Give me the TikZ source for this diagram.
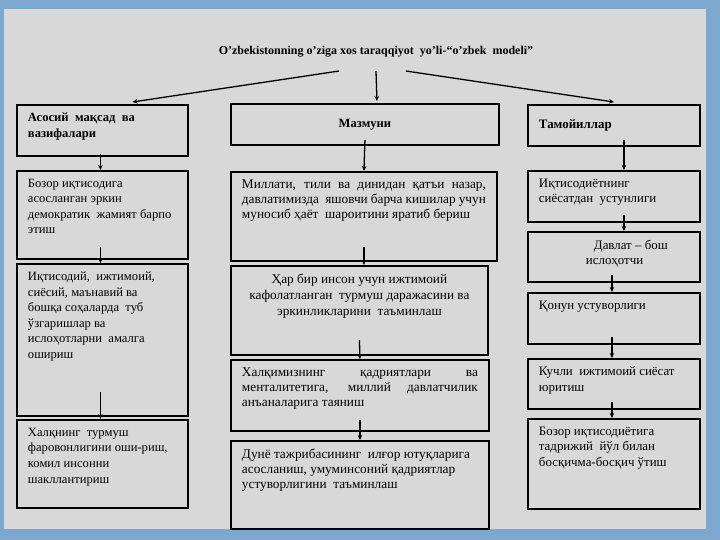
\documentclass[tikz,border=0pt]{standalone}
\usepackage{fontspec}
\setmainfont{Liberation Serif}
\usetikzlibrary{arrows.meta}
\definecolor{slide blue}{RGB}{126,167,208}
\definecolor{slide grey}{RGB}{216,216,216}

\begin{document}
\begin{tikzpicture}[x=1pt, y=-1pt, font=\fontsize{12.6}{15.6}\selectfont,
    blk/.style={draw, line width=1.9pt, anchor=north west, inner xsep=11pt, inner ysep=8pt},
    mid/.style={font=\fontsize{13.3}{14.8}\selectfont},
    rgt/.style={font=\fontsize{12.9}{15.6}\selectfont},
    arr/.style={line width=1.3pt, -{Stealth[length=5pt, width=4.5pt]}}]
  \fill[slide blue] (0,0) rectangle (720,540);
  \fill[slide grey] (4,9) rectangle (706,529);
  \useasboundingbox (0,0) rectangle (720,540);

  \node[font=\fontsize{12}{14}\selectfont\bfseries] (title) at (376,52) {O’zbekistonning o’ziga xos taraqqiyot\ \ yo’li-“o’zbek\ \ modeli”};

  % chap ustun
  \node[blk] (l1) at (16,104) {\parbox[t][35pt][t]{149pt}{\raggedright\bfseries Асосий\ \ мақсад\ \ ва\\ вазифалари}};
  \node[blk] (l2) at (16,170) {\parbox[t][72pt][t]{149pt}{\raggedright Бозор иқтисодига\\ асосланган эркин\\ демократик\ \ жамият барпо\\ этиш}};
  \node[blk] (l3) at (16,263) {\parbox[t][136pt][t]{149pt}{\raggedright Иқтисодий,\ \ ижтимоий,\\ сиёсий, маънавий ва\\ бошқа соҳаларда\ \ туб\\ ўзгаришлар ва\\ ислоҳотларни\ \ амалга\\ ошириш}};
  \node[blk] (l4) at (16,419) {\parbox[t][72pt][t]{149pt}{\raggedright Халқнинг\ \ турмуш\\ фаровонлигини оши-риш,\\ комил инсонни\\ шакллантириш}};

  % o'rta ustun
  \node[blk] (m1) at (230,103) {\parbox[t][25pt][c]{246pt}{\centering\bfseries Мазмуни}};
  \node[blk, mid] (m2) at (230,171) {\parbox[t][73pt][t]{244pt}{\raggedright\makebox[\linewidth][s]{Миллати, тили ва динидан қатъи назар,}\\ \makebox[\linewidth][s]{давлатимизда\ \ яшовчи барча кишилар учун}\\ муносиб ҳаёт\ \ шароитини\ яратиб\ бериш}};
  \node[blk, mid, font=\fontsize{13.3}{16}\selectfont] (m3) at (230,265) {\parbox[t][73pt][t]{235pt}{\centering Ҳар бир инсон учун ижтимоий\\ кафолатланган\ \ турмуш даражасини ва\\ эркинликларини\ \ таъминлаш}};
  \node[blk, mid] (m4) at (230,359) {\parbox[t][55pt][t]{236pt}{\raggedright\makebox[\linewidth][s]{Халқимизнинг қадриятлари ва}\\ \makebox[\linewidth][s]{менталитетига, миллий давлатчилик}\\ анъаналарига таяниш}};
  \node[blk, mid] (m5) at (230,440) {\parbox[t][72pt][t]{236pt}{\raggedright Дунё тажрибасининг\ \ илғор ютуқларига\\ асосланиш, умуминсоний қадриятлар\\ устуворлигини\ \ таъминлаш}};

  % o'ng ustun
  \node[blk, rgt] (r1) at (527,104) {\parbox[t][25pt][c]{150pt}{\raggedright\bfseries Тамойиллар}};
  \node[blk, rgt] (r2) at (527,170) {\parbox[t][35pt][t]{150pt}{\raggedright Иқтисодиётнинг\\ сиёсатдан\ \ устунлиги}};
  \node[blk, rgt] (r3) at (527,231) {\parbox[t][34pt][t]{150pt}{\raggedright\hspace*{55pt}Давлат – бош\\ \hspace*{47pt}ислоҳотчи}};
  \node[blk, rgt] (r4) at (527,292) {\parbox[t][35pt][t]{150pt}{\raggedright Қонун устуворлиги}};
  \node[blk, rgt] (r5) at (527,358) {\parbox[t][34pt][t]{150pt}{\raggedright Кучли\ \ ижтимоий сиёсат\\ юритиш}};
  \node[blk, rgt] (r6) at (527,418) {\parbox[t][74pt][t]{150pt}{\raggedright Бозор иқтисодиётига\\ тадрижий\ \ йўл билан\\ босқичма-босқич ўтиш}};

  % strelkalar
  \draw[arr] ([xshift=-37pt,yshift=-10pt]title.south) -- ([xshift=30pt,yshift=2pt]l1.north);
  \draw[arr] ([yshift=-10pt]title.south) -- ([xshift=12pt,yshift=2pt]m1.north);
  \draw[arr] ([xshift=30pt,yshift=-10pt]title.south) -- ([yshift=2pt]r1.north);

  \draw[arr] ([xshift=-2pt,yshift=3pt]l1.south) -- ([xshift=-2pt]l2.north);
  \draw[arr] ([xshift=-2pt,yshift=13pt]l2.south) -- ([xshift=-2pt]l3.north);
  \draw[arr] ([xshift=-2pt,yshift=25pt]l3.south) -- ([xshift=-2pt]l4.north);

  \draw[arr] ([yshift=6pt]m1.south) -- (m2.north);
  \draw[arr] ([yshift=15pt]m2.south) -- (m2.south |- m3.north);
  \draw[arr] ([yshift=16pt]m3.south) -- (m4.north);
  \draw[arr] ([yshift=12pt]m4.south) -- (m5.north);

  \draw[arr] ([xshift=10pt,yshift=7pt]r1.south) -- ([xshift=10pt]r2.north);
  \draw[arr] ([xshift=10pt,yshift=8pt]r2.south) -- ([xshift=10pt]r3.north);
  \draw[arr] ([xshift=-2pt,yshift=8pt]r3.south) -- ([xshift=-2pt]r4.north);
  \draw[arr] ([xshift=-2pt,yshift=8pt]r4.south) -- ([xshift=-2pt]r5.north);
  \draw[arr] ([xshift=-2pt,yshift=8pt]r5.south) -- ([xshift=-2pt]r6.north);
\end{tikzpicture}
\end{document}
